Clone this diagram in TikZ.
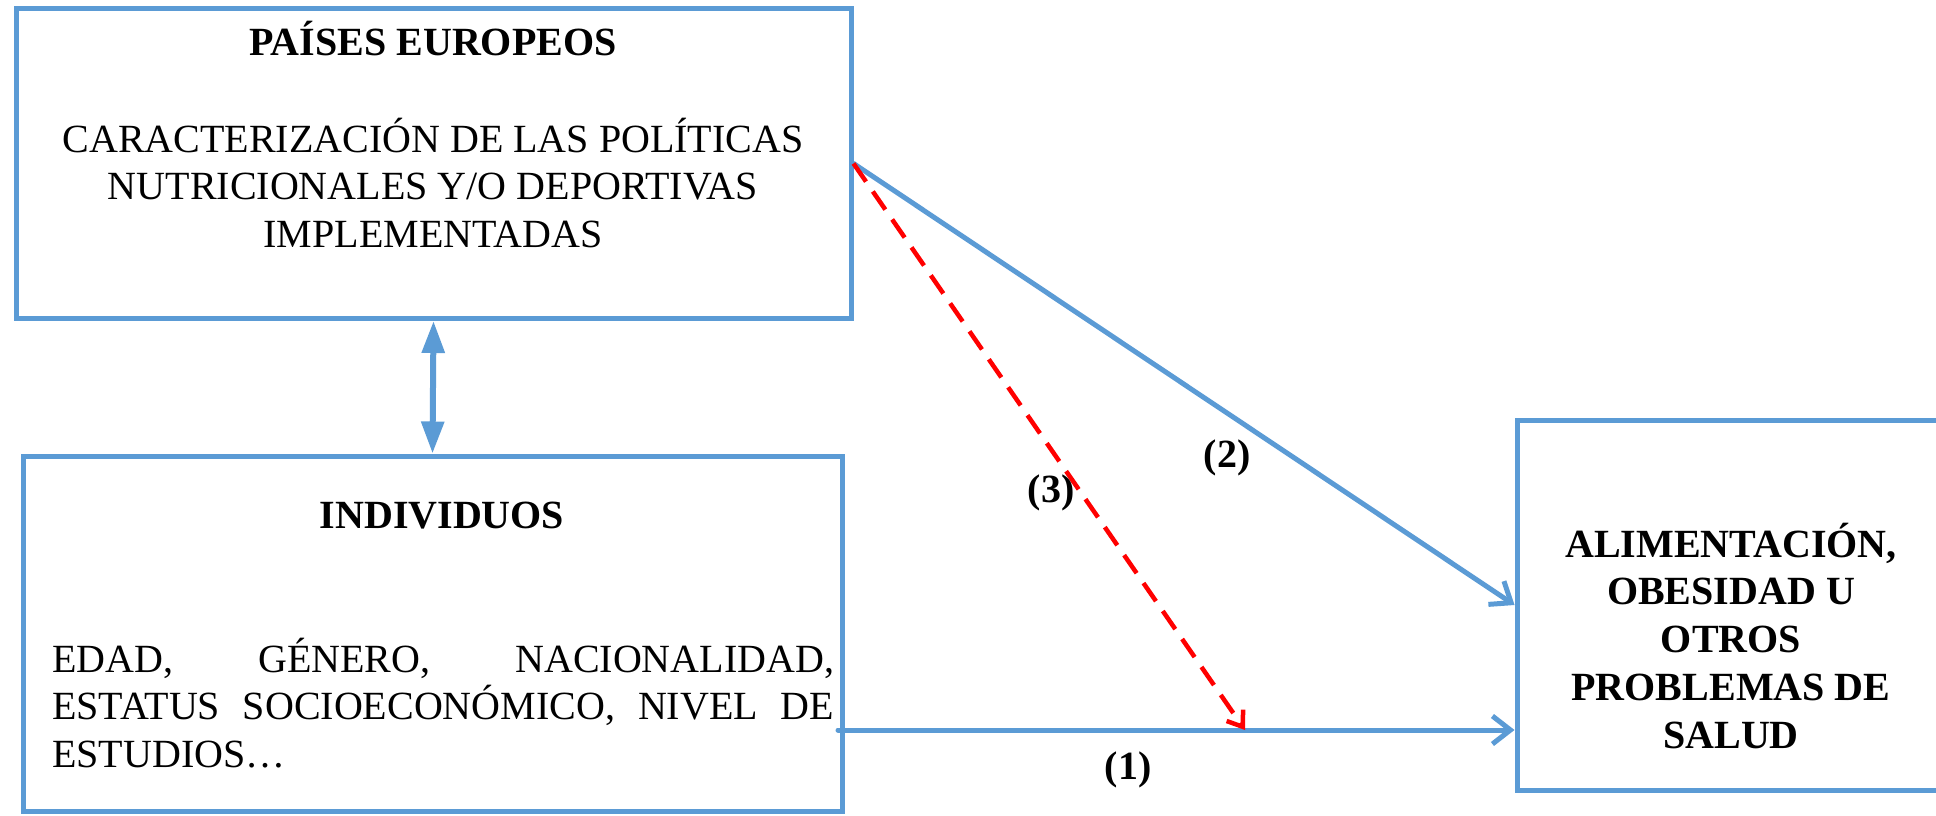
\documentclass[tikz,border=0pt]{standalone}
\usepackage{fontspec}
\setmainfont{Liberation Serif}
\usetikzlibrary{arrows.meta}
\definecolor{boxblue}{HTML}{5B9BD5}
\definecolor{dashred}{HTML}{FF0000}
\begin{document}
\begin{tikzpicture}[x=1pt,y=-1pt,
  panel/.style={draw=boxblue,line width=5pt,inner sep=0pt,rectangle},
  txt/.style={inner sep=0pt,anchor=base,font=\fontsize{40}{48}\selectfont},
  txtb/.style={txt,font=\fontsize{40}{48}\selectfont\bfseries},
  txtl/.style={inner sep=0pt,anchor=base west,font=\fontsize{40}{48}\selectfont},
  link/.style={draw=boxblue,line width=5pt,line cap=round,-{Straight Barb[length=18pt,width=28pt]}},
  twoway/.style={draw=boxblue,line width=6pt,{Triangle[length=32pt,width=22pt]}-{Triangle[length=32pt,width=22pt]}},
  redlink/.style={draw=dashred,line width=4.5pt,dash pattern=on 22pt off 12pt,-{Straight Barb[length=14pt,width=20pt]}}]
\useasboundingbox (0,0) rectangle (1936,815);
% boxes
\node[panel,minimum width=835pt,minimum height=310pt] (paises) at (433.5,163.5) {};
\node[panel,minimum width=819pt,minimum height=355pt] (indiv) at (432.5,633.5) {};
\node[panel,minimum width=428pt,minimum height=370pt] (salud) at (1731,605) {};
% top box text
\node[txtb] (t0) at (433,55) {PAÍSES EUROPEOS};
\node[txt] (t1) at (433,152) {CARACTERIZACIÓN DE LAS POLÍTICAS};
\node[txt] (t2) at (433,199.5) {NUTRICIONALES Y/O DEPORTIVAS};
\node[txt] (t3) at (433,247) {IMPLEMENTADAS};
% bottom box text
\node[txtb] (b0) at (442,528) {INDIVIDUOS};
\node[txtl] (b1) at (52,672) {\makebox[782pt][s]{EDAD, GÉNERO, NACIONALIDAD,}};
\node[txtl] (b2) at (52,719.5) {\makebox[782pt][s]{ESTATUS SOCIOECONÓMICO, NIVEL DE}};
\node[txtl] (b3) at (52,767) {ESTUDIOS…};
% right box text
\node[txtb] (r1) at (1731,557) {ALIMENTACIÓN,};
\node[txtb] (r2) at (1731,604.5) {OBESIDAD U};
\node[txtb] (r3) at (1731,652) {OTROS};
\node[txtb] (r4) at (1731,700) {PROBLEMAS DE};
\node[txtb] (r5) at (1731,748) {SALUD};
% connectors
\draw[twoway] (paises.south) -- (indiv.north);
\draw[link] (paises.east) -- (salud.west);
\coordinate (s1) at (838,730);
\coordinate (e3) at (1245,730);
\draw[link] (s1) -- (s1 -| salud.west);
\draw[redlink] (paises.east) -- (e3);
% labels
\node[txtb,anchor=center] (l2) at (1227,458) {(2)};
\node[txtb,anchor=center] (l3) at (1051,493) {(3)};
\node[txtb,anchor=center] (l1) at (1128,770) {(1)};
\end{tikzpicture}
\end{document}
